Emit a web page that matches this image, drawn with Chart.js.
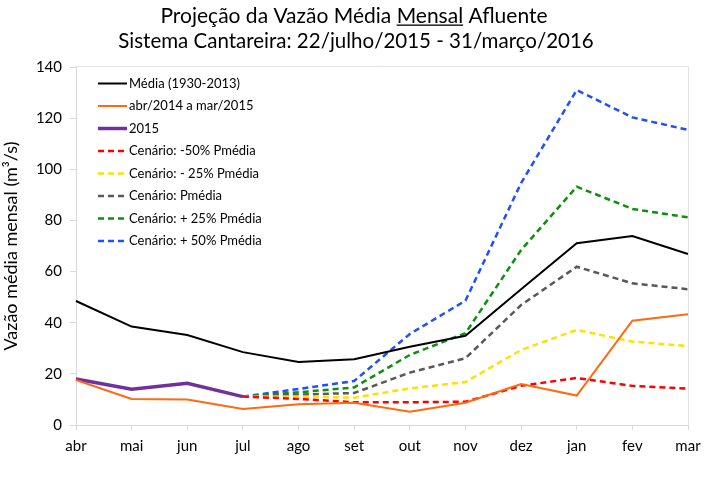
<!DOCTYPE html>
<html>
<head>
<meta charset="utf-8">
<script src="https://cdn.jsdelivr.net/npm/chart.js@4.4.1/dist/chart.umd.min.js"></script>
<style>
	body{margin:0;background:#fff;}
</style>
</head>
<body>
<canvas id="cnvVazao" width="709" height="482"></canvas>
<script>
var titulo = ["Projeção da Vazão Média Mensal Afluente", "Sistema Cantareira: 22/julho/2015 - 31/março/2016"];
var meses = ["abr", "mai", "jun", "jul", "ago", "set", "out", "nov", "dez", "jan", "fev", "mar"];
var media = [48.5, 38.5, 35.2, 28.5, 24.6, 25.7, 30.6, 34.9, 53.1, 71.1, 73.9, 66.9];
var abr14mar15 = [17.6, 10.2, 10.0, 6.3, 8.1, 8.7, 5.2, 8.7, 16.0, 11.5, 40.8, 43.3];
var ano2015 = [18.0, 14.0, 16.3, 11.1, null, null, null, null, null, null, null, null];
var cenMenos50 = [null, null, null, 11.1, 10.2, 8.9, 8.9, 9.1, 15.3, 18.4, 15.3, 14.2];
var cenMenos25 = [null, null, null, 11.1, 11.1, 10.7, 14.3, 16.8, 29.3, 37.2, 32.6, 30.9];
var cenMedia = [null, null, null, 11.1, 11.9, 12.5, 20.5, 26.1, 46.9, 61.9, 55.4, 53.1];
var cenMais25 = [null, null, null, 11.1, 12.8, 14.7, 27.4, 35.9, 68.4, 93.2, 84.5, 81.2];
var cenMais50 = [null, null, null, 11.1, 14.1, 17.2, 35.6, 48.6, 94.6, 131.0, 120.3, 115.4];

var fonte = "Lato";

function serie(label, data, cor, largura, tracejado){
	return {
		label: label,
		data: data,
		borderColor: cor,
		backgroundColor: cor,
		borderWidth: largura,
		borderDash: tracejado,
		pointRadius: 0,
		pointHoverRadius: 0,
		tension: 0,
		fill: false
	};
}

var molduraPlugin = {
	id: "moldura",
	afterDraw: function(chart){
		var ctx = chart.ctx, area = chart.chartArea;
		ctx.save();
		// borda superior e direita da area
		ctx.strokeStyle = "#e2e2e2";
		ctx.lineWidth = 1;
		ctx.beginPath();
		ctx.moveTo(area.left, area.top - 0.5);
		ctx.lineTo(area.right + 0.5, area.top - 0.5);
		ctx.lineTo(area.right + 0.5, area.bottom);
		ctx.stroke();

		// titulo
		ctx.fillStyle = "#000";
		ctx.font = "21px " + fonte;
		ctx.textAlign = "center";
		ctx.textBaseline = "middle";
		ctx.fillText(titulo[0], 354, 16);
		var total = ctx.measureText(titulo[0]).width;
		var antes = ctx.measureText("Projeção da Vazão Média ").width;
		var palavra = ctx.measureText("Mensal").width;
		var x0 = 354 - total / 2 + antes;
		ctx.fillRect(x0, 24.5, palavra, 1.3);
		ctx.font = "20.5px " + fonte;
		ctx.fillText(titulo[1], 356, 41);

		// legenda
		ctx.font = "13px " + fonte;
		ctx.textAlign = "left";
		chart.data.datasets.forEach(function(ds, i){
			var y = area.top + 16.5 + i * 22.5;
			ctx.strokeStyle = ds.borderColor;
			ctx.lineWidth = ds.borderWidth;
			ctx.setLineDash(ds.borderDash || []);
			ctx.beginPath();
			ctx.moveTo(98, y);
			ctx.lineTo(127, y);
			ctx.stroke();
			ctx.setLineDash([]);
			ctx.fillText(ds.label, 129, y);
		});
		ctx.restore();
	}
};

new Chart(document.getElementById("cnvVazao").getContext("2d"), {
	type: "line",
	data: {
		labels: meses,
		datasets: [
			serie("Média (1930-2013)", media, "#000000", 2, []),
			serie("abr/2014 a mar/2015", abr14mar15, "#ff6a10", 2, []),
			serie("2015", ano2015, "#7030a0", 3.5, []),
			serie("Cenário: -50% Pmédia", cenMenos50, "#ff0000", 2.5, [6, 4]),
			serie("Cenário: - 25% Pmédia", cenMenos25, "#ffe000", 2.5, [6, 4]),
			serie("Cenário: Pmédia", cenMedia, "#595959", 2.5, [6, 4]),
			serie("Cenário: + 25% Pmédia", cenMais25, "#0f8f0f", 2.5, [6, 4]),
			serie("Cenário: + 50% Pmédia", cenMais50, "#1f4fff", 2.5, [6, 4])
		]
	},
	options: {
		responsive: false,
		animation: false,
		spanGaps: false,
		layout: {padding: {top: 67, right: 21, bottom: 0, left: 0}},
		plugins: {
			legend: {display: false},
			title: {display: false},
			tooltip: {enabled: false}
		},
		scales: {
			x: {
				offset: false,
				grid: {drawOnChartArea: false, tickLength: 5, color: "#d9d9d9"},
				border: {color: "#d9d9d9"},
				ticks: {color: "#000", font: {family: fonte, size: 15}, padding: 7, maxRotation: 0, autoSkip: false},
				afterFit: function(s){ s.height = 57; }
			},
			y: {
				min: 0,
				max: 140,
				grid: {drawOnChartArea: false, tickLength: 6, color: "#d9d9d9"},
				border: {color: "#d9d9d9"},
				ticks: {stepSize: 20, color: "#000", font: {family: fonte, size: 15}, padding: 8},
				title: {display: true, text: "Vazão média mensal (m³/s)", color: "#000", font: {family: fonte, size: 18}, padding: {top: 0, bottom: 0}},
				afterFit: function(s){ s.width = 76; }
			}
		}
	},
	plugins: [molduraPlugin]
});
</script>
</body>
</html>
